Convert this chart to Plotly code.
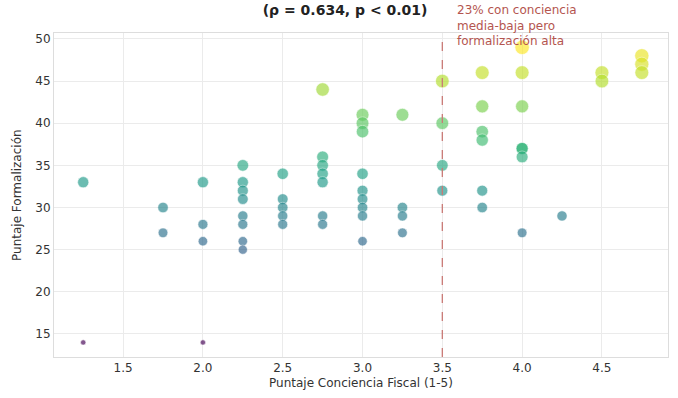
import plotly.graph_objects as go

conciencia = (
    [1.25] * 2 + [1.75] * 2 + [2.0] * 4 + [2.25] * 8 + [2.5] * 5 + [2.75] * 7
    + [3.0] * 9 + [3.25] * 4 + [3.5] * 4 + [3.75] * 6 + [4.0] * 7 + [4.25] * 1
    + [4.5] * 2 + [4.75] * 3
)
formalizacion = (
    [33, 14] + [30, 27] + [33, 28, 26, 14] + [35, 33, 32, 31, 29, 28, 26, 25]
    + [34, 31, 30, 29, 28] + [44, 36, 35, 34, 33, 29, 28]
    + [41, 40, 39, 34, 32, 31, 30, 29, 26] + [41, 30, 29, 27]
    + [45, 40, 35, 32] + [46, 42, 39, 38, 32, 30] + [49, 46, 42, 37, 37, 36, 27]
    + [29] + [46, 45] + [48, 47, 46]
)
x_ticks = [1.5, 2.0, 2.5, 3.0, 3.5, 4.0, 4.5]
y_ticks = [15, 20, 25, 30, 35, 40, 45, 50]
umbral = 3.5

fmin, fmax = min(formalizacion), max(formalizacion)
sizes = []
for v in formalizacion:
    area = 28 + (v - fmin) / (fmax - fmin) * 180
    sizes.append(area ** 0.5)

fig = go.Figure()
fig.add_trace(go.Scatter(
    x=conciencia, y=formalizacion, mode="markers",
    marker=dict(size=sizes, color=formalizacion, colorscale="Viridis",
                cmin=fmin, cmax=fmax, opacity=0.66,
                line=dict(color="white", width=0.6)),
    showlegend=False, hoverinfo="x+y",
))

fig.add_vline(x=umbral, line=dict(color="#c97a76", width=1.3, dash="dash"))
fig.add_annotation(
    x=umbral, xref="x", y=1.098, yref="paper", xshift=13,
    text="23% con conciencia<br>media-baja pero<br>formalización alta",
    showarrow=False, xanchor="left", yanchor="top", align="left",
    font=dict(family="DejaVu Sans", size=12, color="#b4554f"),
)

# axis titles placed as annotations
fig.add_annotation(
    x=0.5, xref="paper", y=0, yref="paper", yshift=-26,
    text="Puntaje Conciencia Fiscal (1-5)", showarrow=False,
    xanchor="center", yanchor="middle",
    font=dict(family="DejaVu Sans", size=12, color="#333333"))
fig.add_annotation(
    x=0, xref="paper", y=0.5, yref="paper", xshift=-37,
    text="Puntaje Formalización", showarrow=False, textangle=-90,
    xanchor="center", yanchor="middle",
    font=dict(family="DejaVu Sans", size=12, color="#333333"))

fig.update_layout(
    width=678, height=398,
    margin=dict(l=54, r=10, t=33, b=41, autoexpand=False),
    paper_bgcolor="white", plot_bgcolor="white",
    font=dict(family="DejaVu Sans", size=12, color="#333333"),
    title=dict(text="<b>(ρ = 0.634, p < 0.01)</b>", x=0.509, xanchor="center",
               y=0.975, yanchor="middle", font=dict(size=14, color="#222222")),
    xaxis=dict(range=[1.067, 4.914], tickvals=x_ticks, automargin=False,
               ticktext=[f"{t:.1f}" for t in x_ticks],
               showgrid=True, gridcolor="#ebebeb", zeroline=False,
               showline=True, linecolor="#dddddd", mirror=True),
    yaxis=dict(range=[12.27, 50.7], tickvals=y_ticks, automargin=False,
               showgrid=True, gridcolor="#ebebeb", zeroline=False,
               showline=True, linecolor="#dddddd", mirror=True),
)

fig.write_html("out.html", config={"displayModeBar": False},
               post_script="document.body.style.margin='0';document.body.style.overflow='hidden';")
